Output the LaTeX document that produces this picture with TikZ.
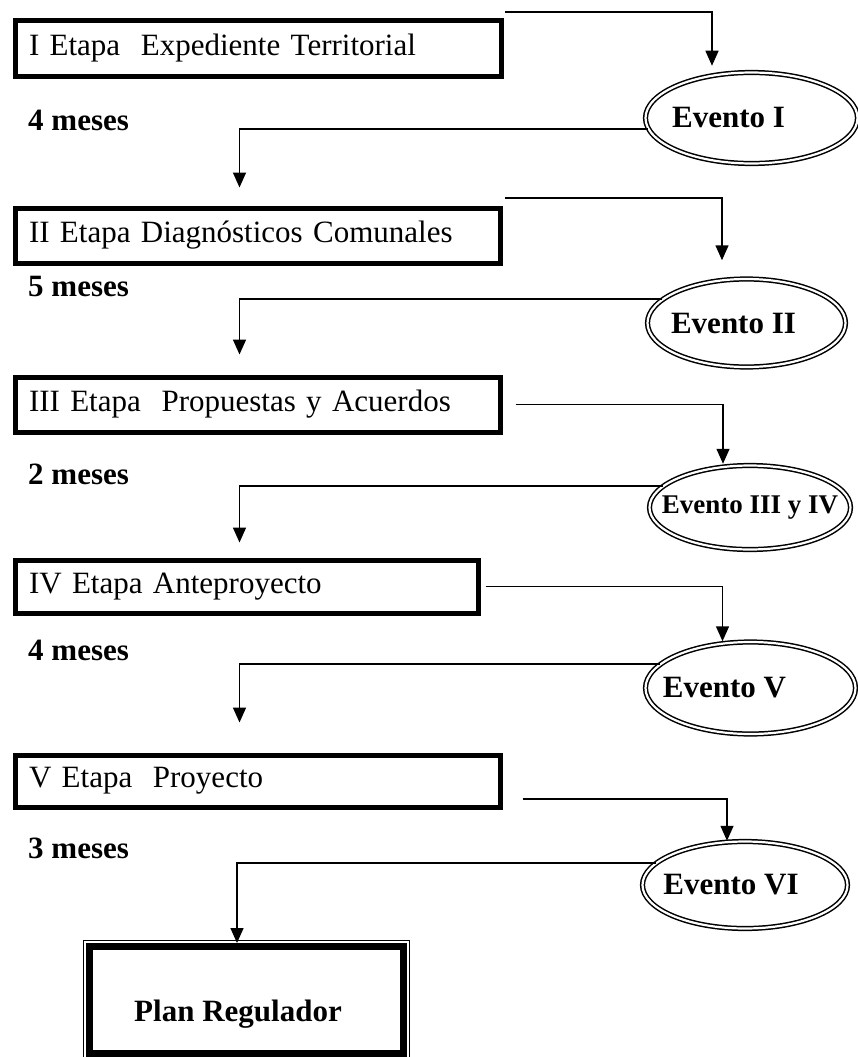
\documentclass[tikz,border=0pt]{standalone}
\usepackage{fontspec}
\setmainfont{Liberation Serif}
\usetikzlibrary{positioning,shapes,fit,arrows.meta,calc}

\begin{document}
\begin{tikzpicture}
  [
      x=1pt, y=-1pt,
      etapa/.style={draw, line width=5pt, anchor=north west, minimum height=55pt, inner xsep=14pt, inner ysep=0pt, text width=#1, align=left, font=\fontsize{31}{36}\selectfont},
      evento/.style={ellipse, draw, double, double distance=2.2pt, line width=1.5pt, inner sep=0pt, font=\bfseries\fontsize{31}{36}\selectfont},
      plazo/.style={anchor=base west, inner sep=0pt, font=\bfseries\fontsize{31}{36}\selectfont},
      flecha/.style={-{Triangle[length=15pt,width=13pt]}, line width=1.5pt},
    ]
    \useasboundingbox (0,0) rectangle (858,1057);

    \node (e1) [etapa=458pt] at (12.5,18.5) {I Etapa\ \ Expediente Territorial};
    \node (e2) [etapa=457pt] at (12.5,205.5) {II Etapa Diagnósticos Comunales};
    \node (e3) [etapa=457pt] at (12.5,374.5) {III Etapa\ \ Propuestas y Acuerdos};
    \node (e4) [etapa=435pt, minimum height=53pt] at (12.5,557.5) {IV Etapa Anteproyecto};
    \node (e5) [etapa=457pt, minimum height=52pt] at (12.5,752.5) {V Etapa\ \ Proyecto};

    \node (ev1) [evento, minimum width=212pt, minimum height=91pt] at (751.5,118) {\makebox[0pt]{Evento I\hspace*{46pt}}};
    \node (ev2) [evento, minimum width=198pt, minimum height=88pt] at (746.5,323) {\makebox[0pt]{Evento II\hspace*{26pt}}};
    \node (ev3) [evento, minimum width=201pt, minimum height=84pt, font=\bfseries\fontsize{27}{32}\selectfont] at (750,507.5) {\makebox[0pt]{Evento III y IV}};
    \node (ev4) [evento, minimum width=210pt, minimum height=92pt] at (750.5,688) {\makebox[0pt]{Evento V\hspace*{52pt}}};
    \node (ev5) [evento, minimum width=205pt, minimum height=87pt] at (745,885) {\makebox[0pt]{Evento VI\hspace*{28pt}}};

    \node (m1) [plazo] at (28,130) {4 meses};
    \node (m2) [plazo] at (28,296) {5 meses};
    \node (m3) [plazo] at (28,484) {2 meses};
    \node (m4) [plazo] at (28,660) {4 meses};
    \node (m5) [plazo] at (28,858) {3 meses};

    \node (plan) [draw, line width=7pt, minimum width=314pt, minimum height=107pt, inner sep=0pt, text height=43pt, text depth=0pt, font=\bfseries\fontsize{31}{36}\selectfont] at (246.5,1000) {Plan Regulador\hspace*{17pt}};
    \node [fit=(plan), draw, line width=1pt, inner sep=2.5pt] {};

    % de cada etapa a su evento
    \coordinate (s1) at (505,12);
    \coordinate (s2) at (505,198);
    \draw [flecha, shorten >=6pt] (s1) -| ([xshift=-39.5pt]ev1.north);
    \draw [flecha, shorten >=18pt] (s2) -| ([xshift=-24.5pt]ev2.north);
    \draw [flecha, shorten <=13pt, shorten >=1pt] (e3.east) -| ([xshift=-27pt]ev3.north);
    \draw [flecha, shorten <=5pt] (e4.east) -| ([xshift=-28pt]ev4.north);
    \draw [flecha, shorten <=20pt] ([yshift=-18pt]e5.east) -| ([xshift=-18pt]ev5.north);

    % de cada evento a la etapa siguiente
    \draw [flecha, shorten >=18pt] (ev1.186) -| ([xshift=227pt]e2.north west);
    \draw [flecha, shorten >=20pt] (ev2.164) -| ([xshift=227pt]e3.north west);
    \draw [flecha, shorten >=15pt] (ev3.166) -| ([xshift=227pt]e4.north west);
    \draw [flecha, shorten >=30pt] (ev4.165) -| ([xshift=227pt]e5.north west);
    \draw [flecha] (ev5.166) -| ([xshift=-9.5pt]plan.north);
  \end{tikzpicture}
\end{document}
